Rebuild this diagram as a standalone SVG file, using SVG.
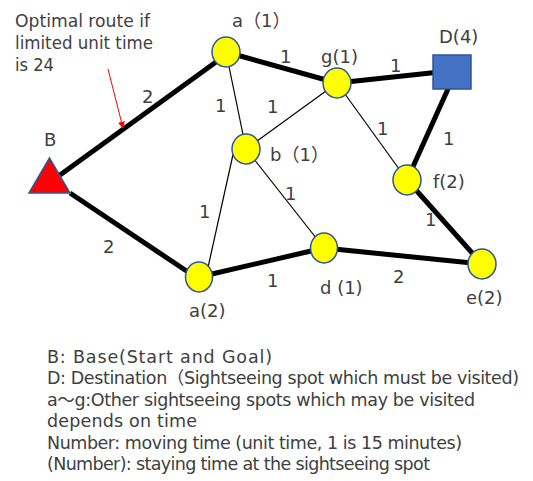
<svg xmlns="http://www.w3.org/2000/svg" width="533" height="481" viewBox="0 0 533 481">
<style>
  text { font-family: "DejaVu Sans", "Noto Sans CJK JP", sans-serif; fill: #404040; }
  .lbl { font-size: 18px; }
  .num { font-size: 18px; }
  .leg { font-size: 17.5px; }
  .thick { stroke: #000; stroke-width: 5; fill: none; }
  .thin { stroke: #000; stroke-width: 1.2; fill: none; }
  .spot { fill: #FFFF00; stroke: #2F5597; stroke-width: 1.5; }
</style>
<defs>
  <marker id="ah" viewBox="0 0 10 10" refX="9" refY="5" markerWidth="7" markerHeight="7" orient="auto" markerUnits="userSpaceOnUse">
    <path d="M0,0 L10,5 L0,10 z" fill="#FF0000"/>
  </marker>
</defs>
<rect width="533" height="481" fill="#fff"/>

<g id="note">
  <text class="lbl" x="15" y="27" textLength="135" lengthAdjust="spacingAndGlyphs">Optimal route if</text>
  <text class="lbl" x="15" y="49" textLength="138" lengthAdjust="spacingAndGlyphs">limited unit time</text>
  <text class="lbl" x="15" y="71" textLength="39" lengthAdjust="spacingAndGlyphs">is 24</text>
</g>

<g id="connectors">
  <line class="thick" x1="60" y1="175" x2="216" y2="62"/>
  <line class="thick" x1="70" y1="193" x2="188" y2="272"/>
  <line class="thick" x1="199" y1="277" x2="324" y2="248"/>
  <line class="thick" x1="324" y1="248" x2="482" y2="264"/>
  <line class="thick" x1="226" y1="52" x2="337" y2="83"/>
  <line class="thick" x1="337" y1="83" x2="440" y2="72"/>
  <line class="thick" x1="452" y1="80" x2="407" y2="180"/>
  <line class="thick" x1="407" y1="180" x2="482" y2="264"/>
  <line class="thin" x1="226" y1="52" x2="246" y2="149"/>
  <line class="thin" x1="337" y1="83" x2="246" y2="149"/>
  <line class="thin" x1="337" y1="83" x2="407" y2="180"/>
  <line class="thin" x1="246" y1="149" x2="324" y2="248"/>
  <line class="thin" x1="234" y1="150" x2="207" y2="272"/>
  <line x1="108" y1="69" x2="123" y2="128" stroke="#FF0000" stroke-width="1" marker-end="url(#ah)"/>
</g>

<g id="edge-labels">
  <text class="num" x="142" y="103">2</text>
  <text class="num" x="280" y="63">1</text>
  <text class="num" x="390" y="72">1</text>
  <text class="num" x="215" y="112">1</text>
  <text class="num" x="267" y="113">1</text>
  <text class="num" x="377" y="135">1</text>
  <text class="num" x="443" y="145">1</text>
  <text class="num" x="425" y="226">1</text>
  <text class="num" x="393" y="283">2</text>
  <text class="num" x="103" y="253">2</text>
  <text class="num" x="199" y="218">1</text>
  <text class="num" x="285" y="200">1</text>
  <text class="num" x="267" y="287">1</text>
</g>

<g id="node-B">
  <polygon points="49.5,158 29,193 70,193" fill="#FF0000" stroke="#2F5597" stroke-width="1.5"/>
  <text class="lbl" x="44" y="146">B</text>
</g>
<g id="node-a1">
  <ellipse class="spot" cx="226" cy="52" rx="14" ry="15"/>
  <text class="lbl" x="232" y="27">a（1）</text>
</g>
<g id="node-g">
  <ellipse class="spot" cx="337" cy="83" rx="14" ry="15"/>
  <text class="lbl" x="321" y="63">g(1)</text>
</g>
<g id="node-D">
  <rect x="433" y="55" width="38" height="34" fill="#4472C4" stroke="#2F5597" stroke-width="1.5"/>
  <text class="lbl" x="439" y="43">D(4)</text>
</g>
<g id="node-b">
  <ellipse class="spot" cx="246" cy="149" rx="14" ry="15"/>
  <text class="lbl" x="270" y="161">b（1）</text>
</g>
<g id="node-f">
  <ellipse class="spot" cx="407" cy="180" rx="14" ry="15"/>
  <text class="lbl" x="433" y="188">f(2)</text>
</g>
<g id="node-d">
  <ellipse class="spot" cx="324" cy="248" rx="13.5" ry="15"/>
  <text class="lbl" x="320" y="294">d (1)</text>
</g>
<g id="node-a2">
  <ellipse class="spot" cx="199" cy="277" rx="13.5" ry="15"/>
  <text class="lbl" x="189" y="317">a(2)</text>
</g>
<g id="node-e">
  <ellipse class="spot" cx="482" cy="264" rx="14" ry="15"/>
  <text class="lbl" x="466" y="304">e(2)</text>
</g>

<g id="legend">
  <text class="leg" x="47" y="363" textLength="225" lengthAdjust="spacing">B: Base(Start and Goal)</text>
  <text class="leg" x="47" y="384" textLength="472" lengthAdjust="spacing">D: Destination（Sightseeing spot which must be visited)</text>
  <text class="leg" x="47" y="405.5" textLength="428" lengthAdjust="spacing">a～g:Other sightseeing spots which may be visited</text>
  <text class="leg" x="47" y="427" textLength="150" lengthAdjust="spacing">depends on time</text>
  <text class="leg" x="47" y="448.5" textLength="415" lengthAdjust="spacing">Number: moving time (unit time, 1 is 15 minutes)</text>
  <text class="leg" x="47" y="470" textLength="383" lengthAdjust="spacing">(Number): staying time at the sightseeing spot</text>
</g>
</svg>
